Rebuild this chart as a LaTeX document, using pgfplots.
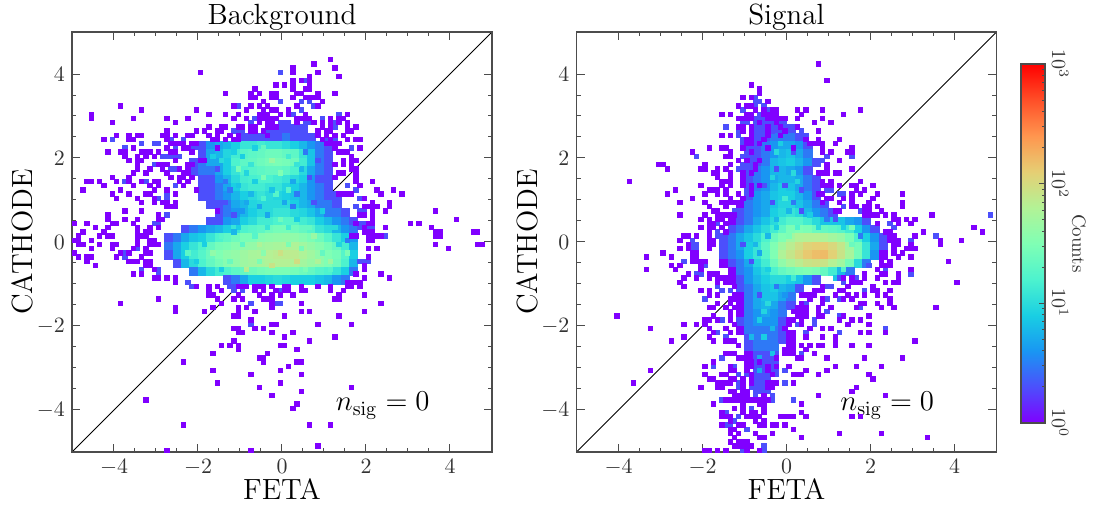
\documentclass[border=0pt]{standalone}
\usepackage{pgfplots}
\pgfplotsset{compat=1.18}
\definecolor{cone}{rgb}{0.5,0,1}
\definecolor{ctwo}{rgb}{0.3,0.309,0.988}
\pgfplotsset{
 /pgfplots/colormap={myrainbow}{rgb=(0.5,0,1) rgb=(0.3,0.309,0.988) rgb=(0.1,0.588,0.951) rgb=(0.1,0.809,0.891) rgb=(0.3,0.951,0.809) rgb=(0.5,1,0.707) rgb=(0.7,0.951,0.588) rgb=(0.9,0.809,0.454) rgb=(1,0.588,0.309) rgb=(1,0.309,0.156) rgb=(1,0,0)},
 panel/.style={scale only axis,width=210pt,height=210pt,xmin=-5,xmax=5,ymin=-5,ymax=5,
  xtick={-4,-2,0,2,4},ytick={-4,-2,0,2,4},minor tick num=3,tick align=inside,
  axis line style={black!70,line width=0.8pt},tick style={black!70,line width=0.5pt},
  major tick length=4pt,minor tick length=2pt,
  tick label style={font=\fontsize{10.5}{12}\selectfont,black!80},
  label style={font=\fontsize{14.6}{16}\selectfont},
  title style={font=\fontsize{14.6}{16}\selectfont,yshift=-9pt},
  xlabel={FETA},ylabel={CATHODE},xlabel style={yshift=5pt},ylabel style={yshift=-5pt},
  axis on top,colormap name=myrainbow,point meta min=0,point meta max=3},
 coarse/.style={scatter,only marks,mark=square*,mark size=2.1pt,scatter src=explicit,
  scatter/use mapped color={draw=mapped color,fill=mapped color},
  mark options={xshift=2.1pt,yshift=2.1pt,line width=0.1pt}},
 finec/.style={scatter,only marks,mark=square*,mark size=1.08pt,scatter src=explicit,
  scatter/use mapped color={draw=mapped color,fill=mapped color},
  mark options={xshift=1.05pt,yshift=1.05pt,line width=0.05pt}},
 fine1/.style={only marks,mark=square*,mark size=1.08pt,mark options={draw=#1,fill=#1,xshift=1.05pt,yshift=1.05pt,line width=0.05pt}},
}
\begin{document}
\begin{tikzpicture}
\useasboundingbox (0,0) rectangle (549.5pt,256pt);
\begin{axis}[panel,at={(36pt,30pt)},anchor=south west,title={Background}]
\addplot[coarse] table[x=x,y=y,meta expr=log10(\thisrow{c})] {
x y c
-0.4 2.6 2
-0.2 2.6 2
0.0 2.6 2
0.2 2.6 2
0.4 2.6 2
-1.0 2.4 2
-0.8 2.4 2
-0.6 2.4 2
-0.4 2.4 2
-0.2 2.4 2
0.0 2.4 3
0.2 2.4 2
0.4 2.4 2
0.6 2.4 2
-2.2 2.2 2
-2.0 2.2 2
-1.8 2.2 4
-1.6 2.2 5
-1.4 2.2 6
-1.2 2.2 8
-1.0 2.2 12
-0.8 2.2 12
-0.6 2.2 14
-0.4 2.2 12
-0.2 2.2 12
0.0 2.2 10
0.2 2.2 8
0.4 2.2 6
0.6 2.2 4
0.8 2.2 3
1.0 2.2 2
-2.0 2.0 2
-1.8 2.0 5
-1.6 2.0 6
-1.4 2.0 9
-1.2 2.0 14
-1.0 2.0 18
-0.8 2.0 20
-0.6 2.0 22
-0.4 2.0 25
-0.2 2.0 25
0.0 2.0 22
0.2 2.0 20
0.4 2.0 12
0.6 2.0 7
0.8 2.0 3
1.0 2.0 2
-2.2 1.8 2
-2.0 1.8 3
-1.8 1.8 5
-1.6 1.8 5
-1.4 1.8 8
-1.2 1.8 16
-1.0 1.8 20
-0.8 1.8 22
-0.6 1.8 25
-0.4 1.8 28
-0.2 1.8 30
0.0 1.8 28
0.2 1.8 25
0.4 1.8 14
0.6 1.8 7
0.8 1.8 3
1.0 1.8 2
-2.2 1.6 2
-2.0 1.6 3
-1.8 1.6 3
-1.6 1.6 5
-1.4 1.6 8
-1.2 1.6 12
-1.0 1.6 16
-0.8 1.6 18
-0.6 1.6 20
-0.4 1.6 22
-0.2 1.6 22
0.0 1.6 20
0.2 1.6 16
0.4 1.6 10
0.6 1.6 5
0.8 1.6 3
1.0 1.6 2
-2.0 1.4 2
-1.8 1.4 2
-1.6 1.4 4
-1.4 1.4 6
-1.2 1.4 10
-1.0 1.4 14
-0.8 1.4 15
-0.6 1.4 16
-0.4 1.4 16
-0.2 1.4 14
0.0 1.4 12
0.2 1.4 10
0.4 1.4 8
0.6 1.4 4
0.8 1.4 2
1.0 1.4 2
-2.0 1.2 2
-1.8 1.2 2
-1.6 1.2 3
-1.4 1.2 5
-1.2 1.2 8
-1.0 1.2 12
-0.8 1.2 14
-0.6 1.2 14
-0.4 1.2 12
-0.2 1.2 12
0.0 1.2 9
0.2 1.2 8
0.4 1.2 6
0.6 1.2 4
0.8 1.2 3
1.0 1.2 2
-2.0 1.0 2
-1.8 1.0 2
-1.6 1.0 3
-1.4 1.0 4
-1.2 1.0 6
-1.0 1.0 8
-0.8 1.0 10
-0.6 1.0 12
-0.4 1.0 10
-0.2 1.0 9
0.0 1.0 8
0.2 1.0 7
0.4 1.0 6
0.6 1.0 4
0.8 1.0 3
1.0 1.0 2
1.2 1.0 2
-1.8 0.8 2
-1.6 0.8 2
-1.4 0.8 3
-1.2 0.8 5
-1.0 0.8 6
-0.8 0.8 9
-0.6 0.8 10
-0.4 0.8 10
-0.2 0.8 10
0.0 0.8 10
0.2 0.8 8
0.4 0.8 6
0.6 0.8 5
0.8 0.8 3
1.0 0.8 3
1.2 0.8 2
-1.6 0.6 2
-1.4 0.6 3
-1.2 0.6 4
-1.0 0.6 6
-0.8 0.6 8
-0.6 0.6 10
-0.4 0.6 10
-0.2 0.6 12
0.0 0.6 12
0.2 0.6 10
0.4 0.6 9
0.6 0.6 7
0.8 0.6 5
1.0 0.6 3
1.2 0.6 3
1.4 0.6 2
-1.8 0.4 2
-1.6 0.4 2
-1.4 0.4 4
-1.2 0.4 5
-1.0 0.4 8
-0.8 0.4 10
-0.6 0.4 14
-0.4 0.4 14
-0.2 0.4 16
0.0 0.4 18
0.2 0.4 18
0.4 0.4 14
0.6 0.4 12
0.8 0.4 8
1.0 0.4 6
1.2 0.4 4
1.4 0.4 3
1.6 0.4 2
-2.4 0.2 2
-2.2 0.2 3
-2.0 0.2 4
-1.8 0.2 5
-1.6 0.2 6
-1.4 0.2 8
-1.2 0.2 12
-1.0 0.2 16
-0.8 0.2 18
-0.6 0.2 20
-0.4 0.2 25
-0.2 0.2 28
0.0 0.2 28
0.2 0.2 25
0.4 0.2 22
0.6 0.2 18
0.8 0.2 12
1.0 0.2 10
1.2 0.2 6
1.4 0.2 4
1.6 0.2 3
-2.8 0.0 2
-2.6 0.0 3
-2.4 0.0 5
-2.2 0.0 7
-2.0 0.0 8
-1.8 0.0 12
-1.6 0.0 16
-1.4 0.0 20
-1.2 0.0 25
-1.0 0.0 30
-0.8 0.0 30
-0.6 0.0 35
-0.4 0.0 38
-0.2 0.0 40
0.0 0.0 42
0.2 0.0 40
0.4 0.0 35
0.6 0.0 30
0.8 0.0 25
1.0 0.0 18
1.2 0.0 12
1.4 0.0 8
1.6 0.0 4
-2.8 -0.2 3
-2.6 -0.2 5
-2.4 -0.2 8
-2.2 -0.2 12
-2.0 -0.2 16
-1.8 -0.2 22
-1.6 -0.2 28
-1.4 -0.2 30
-1.2 -0.2 35
-1.0 -0.2 40
-0.8 -0.2 42
-0.6 -0.2 48
-0.4 -0.2 52
-0.2 -0.2 55
0.0 -0.2 58
0.2 -0.2 60
0.4 -0.2 50
0.6 -0.2 42
0.8 -0.2 35
1.0 -0.2 28
1.2 -0.2 22
1.4 -0.2 14
1.6 -0.2 6
-2.8 -0.4 2
-2.6 -0.4 5
-2.4 -0.4 8
-2.2 -0.4 14
-2.0 -0.4 18
-1.8 -0.4 24
-1.6 -0.4 32
-1.4 -0.4 38
-1.2 -0.4 42
-1.0 -0.4 48
-0.8 -0.4 55
-0.6 -0.4 58
-0.4 -0.4 65
-0.2 -0.4 70
0.0 -0.4 72
0.2 -0.4 72
0.4 -0.4 60
0.6 -0.4 50
0.8 -0.4 40
1.0 -0.4 32
1.2 -0.4 28
1.4 -0.4 18
1.6 -0.4 8
-2.6 -0.6 2
-2.4 -0.6 6
-2.2 -0.6 10
-2.0 -0.6 16
-1.8 -0.6 22
-1.6 -0.6 28
-1.4 -0.6 35
-1.2 -0.6 40
-1.0 -0.6 48
-0.8 -0.6 52
-0.6 -0.6 55
-0.4 -0.6 60
-0.2 -0.6 65
0.0 -0.6 65
0.2 -0.6 60
0.4 -0.6 52
0.6 -0.6 45
0.8 -0.6 38
1.0 -0.6 32
1.2 -0.6 26
1.4 -0.6 16
1.6 -0.6 6
-2.2 -0.8 3
-2.0 -0.8 6
-1.8 -0.8 10
-1.6 -0.8 14
-1.4 -0.8 16
-1.2 -0.8 20
-1.0 -0.8 22
-0.8 -0.8 25
-0.6 -0.8 28
-0.4 -0.8 30
-0.2 -0.8 30
0.0 -0.8 30
0.2 -0.8 28
0.4 -0.8 25
0.6 -0.8 22
0.8 -0.8 18
1.0 -0.8 16
1.2 -0.8 12
1.4 -0.8 8
1.6 -0.8 3
-1.4 -1.0 2
-1.2 -1.0 3
-1.0 -1.0 5
-0.8 -1.0 8
-0.6 -1.0 8
-0.4 -1.0 9
-0.2 -1.0 10
0.0 -1.0 9
0.2 -1.0 8
0.4 -1.0 8
0.6 -1.0 8
0.8 -1.0 7
1.0 -1.0 6
1.2 -1.0 4
1.4 -1.0 3
};
\addplot[finec] table[x=x,y=y,meta expr=log10(\thisrow{c})] {
x y c
-1.5 1.9 10
-1.2 2.1 8
-0.9 1.6 9
-0.7 2.2 8
-0.3 1.9 45
0.1 2.0 14
-0.5 1.5 30
-1.1 1.3 7
-0.8 1.1 6
-1.4 0.9 2
-1.3 1.2 3
-1.0 0.7 4
-0.6 0.8 5
-0.2 1.1 18
0.0 0.9 5
0.3 1.1 3
0.2 1.4 5
-0.1 1.6 32
0.4 1.7 6
0.6 1.5 2
-0.4 0.6 5
-0.1 0.5 25
0.3 0.5 8
0.6 0.3 22
-1.1 0.3 8
-1.5 0.1 18
-1.9 -0.1 8
-1.7 -0.3 40
-1.3 -0.5 24
-0.9 -0.7 70
-0.5 -0.3 36
0.1 -0.1 30
0.3 -0.5 95
-0.1 -0.3 90
0.5 -0.7 30
0.9 -0.3 22
1.1 -0.5 50
1.3 -0.1 9
1.5 -0.3 30
1.5 0.0 3
-2.3 -0.3 20
-2.1 -0.5 8
-0.7 0.1 18
-0.3 -0.6 85
0.7 0.1 45
1.1 -0.7 18
-1.6 1.7 2
-1.7 2.0 8
-1.4 1.4 3
-1.6 0.7 1
-1.2 0.6 2
0.8 1.9 2
0.5 2.1 3
0.7 0.9 2
0.9 0.7 8
1.2 0.3 10
-1.0 2.0 8
-0.5 2.2 22
-0.8 1.8 12
0.3 1.8 12
-1.1 1.7 28
-0.7 1.4 8
-0.3 1.2 7
0.1 1.2 18
-0.9 0.9 5
-0.5 1.0 16
0.2 0.8 3
-1.2 0.2 6
-0.4 0.3 12
0.1 0.3 14
-1.0 -0.1 20
-0.6 -0.1 60
0.4 -0.2 28
0.8 -0.5 60
-1.5 -0.7 8
-0.6 -0.5 30
};
\addplot[fine1=ctwo] table {
-1.1 3.2
-.1 4.0
.5 3.8
-.1 3.3
.4 3.3
.6 3.3
.7 3.2
.4 3.1
.2 3.0
1.3 3.0
.9 2.9
.1 2.8
1.2 2.8
-.7 2.9
-.8 2.8
-.1 2.8
0 2.8
.5 2.8
.6 2.8
1.2 2.7
-1.2 2.6
-1.1 2.6
-1.0 2.6
-4.1 2.4
-2.7 2.4
-2.4 2.4
1.0 2.4
1.2 2.4
-3.4 2.3
-3.1 2.3
-3.0 2.3
-3.8 2.2
-2.6 2.2
-2.9 2.0
-2.8 2.0
-2.7 2.0
-2.6 2.0
-2.5 2.0
-3.1 1.8
-2.7 1.7
-2.6 1.7
-3.3 1.4
-3.8 1.4
-2.6 1.3
-2.8 1.1
-3.0 1.0
-2.8 1.0
-2.8 .6
-3.1 .4
-3.0 .4
1.6 2.2
1.5 1.3
1.7 1.2
1.8 1.0
1.7 .8
1.8 .7
1.9 .7
1.6 .5
1.8 .4
1.9 .4
2.0 .3
2.1 .3
1.8 .3
2.4 .1
-.8 -1.5
-.2 -1.5
-.8 -2.0
1.8 -.5
1.9 -.5
2.0 -.5
-.1 -1.5
-.1 -1.2
-1.2 -1.2
-1.0 -1.2
-2.3 -1.0
-2.2 -1.1
-1.3 -1.1
-1.2 -1.1
-3.4 -.7
-3.0 -.7
-3.0 -.8
-3.8 -.3
-3.8 -.4
-3.5 -.2
};
\addplot[fine1=cone] table {
-2.0 4.0
-1.4 3.5
-.7 3.6
-.2 3.7
-.8 3.5
-.6 3.5
-.3 3.5
-.2 3.5
.2 4.0
.2 4.1
.8 4.0
.7 4.2
1.1 4.3
1.2 4.1
.6 3.9
1.3 3.9
.2 3.8
.4 3.8
.6 3.8
0 3.7
.2 3.7
.6 3.7
.2 3.6
.5 3.6
.6 3.6
.3 3.5
.4 3.5
.8 3.5
1.2 3.5
.2 3.4
.5 3.4
.6 3.4
.7 3.4
.8 3.4
.9 3.3
.3 3.2
.8 3.2
.1 3.1
-.1 3.0
.1 3.0
.5 3.0
1.5 3.0
.3 2.9
.4 2.9
.5 2.9
.6 2.9
1.1 2.9
1.3 2.9
1.4 2.9
.3 2.8
.7 2.8
.9 2.8
1.1 2.8
1.3 2.8
1.5 2.8
.9 2.7
1.1 2.7
1.5 2.7
1.7 2.7
.8 2.6
1.0 2.6
1.1 2.6
1.5 2.6
1.6 2.6
.8 2.5
1.0 2.5
1.2 2.5
1.4 2.5
-.8 3.4
-.7 3.4
-.3 3.4
-.2 3.4
-.5 3.3
-1.2 3.2
-.8 3.2
-.6 3.2
-.4 3.2
-3.9 3.2
-3.4 3.1
-2.1 3.1
-.9 3.1
-.5 3.1
-.3 3.1
-.2 3.1
-4.6 3.0
-1.8 3.0
-1.4 3.0
-1.1 3.0
-.6 3.0
-.5 3.0
-.4 3.0
-4.6 2.9
-3.6 2.9
-2.8 2.9
-2.3 2.9
-1.2 2.9
-.9 2.9
-.6 2.9
-.5 2.9
-.4 2.9
-.3 2.9
-.2 2.9
-4.1 2.8
-2.6 2.8
-.6 2.8
-.4 2.8
-.3 2.8
-1.8 2.7
-1.5 2.7
-1.4 2.7
-1.1 2.7
-1.0 2.7
-.8 2.7
-.7 2.7
-.4 2.7
-.3 2.7
-.2 2.7
-2.8 2.6
-2.1 2.6
-1.9 2.6
-1.6 2.6
-1.5 2.6
-.8 2.6
-.7 2.6
-.5 2.6
-4.0 2.5
-3.7 2.5
-3.5 2.5
-3.4 2.5
-2.9 2.5
-2.8 2.5
-2.6 2.5
-2.3 2.5
-2.2 2.5
-1.8 2.5
-1.6 2.5
-1.3 2.5
-1.1 2.5
-.4 2.5
-4.3 2.4
-3.7 2.4
-3.6 2.4
-2.8 2.4
-1.7 2.4
-1.6 2.4
-1.4 2.4
-1.2 2.4
-1.1 2.4
.9 2.4
1.1 2.4
1.5 2.4
1.7 2.4
1.8 2.4
-2.7 2.3
-2.6 2.3
-2.5 2.3
-2.4 2.3
-2.2 2.3
-2.1 2.3
1.0 2.3
1.1 2.3
1.2 2.3
1.3 2.3
-3.6 2.2
-2.8 2.2
-2.4 2.2
-2.3 2.2
-1.6 2.2
1.2 2.2
1.8 2.2
-4.2 2.1
-3.9 2.1
-3.8 2.1
-3.4 2.1
-3.3 2.1
-3.2 2.1
-3.0 2.1
-2.7 2.1
-2.6 2.1
-2.2 2.1
1.3 2.1
1.4 2.1
1.5 2.1
-3.8 2.0
-3.5 2.0
-3.3 2.0
-3.1 2.0
1.6 2.0
-3.7 1.9
-3.5 1.9
-3.4 1.9
-2.6 1.9
-2.0 1.9
-1.9 1.9
1.4 1.9
1.6 1.9
1.7 1.9
-3.5 1.8
-3.0 1.8
-2.9 1.8
-2.8 1.8
-2.3 1.8
-2.2 1.8
1.2 1.8
1.4 1.8
1.6 1.8
-3.5 1.7
-3.2 1.7
-2.9 1.7
-2.5 1.7
-2.3 1.7
1.6 1.7
1.7 1.7
-3.6 1.6
-3.3 1.6
-2.8 1.6
-2.4 1.6
-2.3 1.6
1.7 1.6
1.3 1.6
1.4 1.6
-4.1 1.5
-3.7 1.5
-2.7 1.5
-2.5 1.5
-2.4 1.5
-2.2 1.5
1.7 1.5
1.2 1.5
-4.7 1.4
-4.6 1.4
-4.4 1.4
-4.0 1.4
-3.7 1.4
-3.4 1.4
-3.1 1.4
-3.0 1.4
-2.5 1.4
-2.3 1.4
1.7 1.4
2.1 1.4
-4.3 1.3
-3.6 1.3
-3.2 1.3
-3.0 1.3
-2.4 1.3
1.8 1.3
-4.8 1.2
-3.9 1.2
-3.1 1.2
-2.8 1.2
-2.1 1.2
2.2 1.2
2.6 1.2
-4.1 1.1
-3.7 1.1
-3.3 1.1
-3.2 1.1
-2.6 1.1
1.3 1.1
1.4 1.1
1.5 1.1
1.6 1.1
2.3 1.1
2.8 1.1
-4.0 1.0
-3.5 1.0
-3.1 1.0
1.9 1.0
-3.4 .9
-3.1 .9
-2.9 .9
-2.8 .9
-2.6 .9
2.1 .9
2.5 .9
-2.8 .8
-2.7 .8
-2.6 .8
1.9 .8
2.0 .8
2.1 .8
2.2 .8
2.5 .8
-3.8 .7
-3.4 .7
2.1 .7
2.4 .7
3.6 .7
-4.2 .6
-3.0 .6
1.8 .6
1.9 .6
2.1 .6
-4.2 .5
-3.8 .5
-3.5 .5
-3.0 .5
-2.9 .5
2.1 .5
4.1 .5
-5.0 .4
-4.7 .4
-4.1 .4
-4.0 .4
-3.6 .4
1.7 .4
2.0 .4
2.1 .4
3.0 .4
3.2 .4
-4.5 .3
-4.2 .3
-3.5 .3
-3.2 .3
-3.0 .3
1.9 .3
2.4 .3
3.5 .3
-4.8 .2
-4.3 .2
-3.5 .2
-3.3 .2
-3.2 .2
1.9 .2
2.0 .2
2.1 .2
3.6 .2
3.7 .2
4.5 .2
4.6 .2
-4.9 .1
-4.4 .1
-4.2 .1
-4.1 .1
-3.5 .1
-3.4 .1
-3.3 .1
1.6 .1
1.7 .1
2.0 .1
2.1 .1
2.2 .1
2.3 .1
3.6 .1
3.7 .1
-5.0 0
-4.9 0
-4.6 0
-3.5 0
-3.2 0
-3.1 0
2.0 0
2.1 0
-4.9 -.1
-4.8 -.1
-4.4 -.1
-4.1 -.1
-4.0 -.1
-3.5 -.1
-3.2 -.1
-3.1 -.1
-3.0 -.1
3.6 -.1
4.6 -.1
4.7 -.1
-4.6 -.2
-4.1 -.2
-3.6 -.2
-3.3 -.2
2.0 -.2
2.2 -.2
3.9 -.2
-5.0 -.3
-3.9 -.3
-3.7 -.3
-3.3 -.3
-3.2 -.3
-4.9 -.4
-4.7 -.4
-4.6 -.4
-4.0 -.4
-3.4 -.4
2.0 -.4
-4.7 -.5
-3.7 -.5
-3.6 -.5
-3.5 -.5
-3.3 -.5
-3.2 -.5
-4.5 -.6
-3.3 -.6
-3.2 -.6
1.9 -.6
-3.1 -.7
1.9 -.7
-3.6 -.8
-3.4 -.8
1.7 -.8
2.3 -.8
-3.1 -.9
-3.0 -.9
-2.8 -.9
-2.6 -.9
1.9 -.9
2.5 -.9
-2.6 -1.0
1.5 -1.0
1.6 -1.0
1.7 -1.0
1.8 -1.0
-2.1 -1.1
-1.8 -1.1
-1.6 -1.1
-1.1 -1.1
-1.0 -1.1
-.9 -1.1
-.7 -1.1
-.6 -1.1
-.5 -1.1
-.3 -1.1
0 -1.1
.1 -1.1
.4 -1.1
.8 -1.1
1.1 -1.1
1.5 -1.1
1.6 -1.1
1.8 -1.1
-1.8 -1.2
-1.5 -1.2
-.7 -1.2
-.5 -1.2
-.2 -1.2
0 -1.2
.1 -1.2
.4 -1.2
.5 -1.2
1.1 -1.2
1.4 -1.2
-1.8 -1.3
-1.7 -1.3
-1.1 -1.3
-.6 -1.3
-.3 -1.3
-.1 -1.3
.2 -1.3
1.3 -1.3
1.9 -1.3
-3.0 -1.4
-1.6 -1.4
-1.2 -1.4
-1.0 -1.4
-.5 -1.4
-.4 -1.4
-.3 -1.4
1.2 -1.4
1.3 -1.4
-3.9 -1.5
-1.5 -1.5
-.3 -1.5
.4 -1.5
2.3 -1.5
-2.6 -1.6
-1.7 -1.6
-1.1 -1.6
-.9 -1.6
-.3 -1.6
-2.6 -1.7
-1.9 -1.7
-1.1 -1.7
-.7 -1.7
.4 -1.7
.6 -1.7
1.9 -1.7
-1.2 -1.8
-1.1 -1.8
0 -1.8
1.3 -1.8
-.8 -1.9
-.3 -2.0
-.2 -2.0
.8 -2.0
1.6 -2.0
-1.2 -2.1
-1.1 -2.1
-.7 -2.1
-.5 -2.1
-1.1 -2.2
-1.0 -2.2
-.3 -2.2
.2 -2.2
0 -2.3
1.2 -2.3
-1.2 -2.4
.6 -2.4
-1.5 -2.5
-1.3 -2.5
-1.1 -2.5
-.1 -2.5
0 -2.5
-1.1 -2.6
.3 -2.6
-1.7 -2.7
-.4 -2.7
-.6 -2.8
-.5 -2.8
-2.4 -2.9
-.5 -2.9
.3 -2.9
.4 -2.9
.1 -3.0
-1.7 -3.1
-.1 -3.1
-.8 -3.2
.4 -3.2
-1.6 -3.4
-.1 -3.4
-.6 -3.5
1.6 -3.5
.4 -3.6
-.3 -3.7
-3.3 -3.8
.3 -3.9
.2 -4.0
-2.4 -4.4
.6 -4.4
1.1 -4.4
.8 -4.9
-2.8 -5.0
-.8 -5.0
};
\addplot[black,line width=0.5pt] coordinates {(-5,-5) (5,5)};
\node[font=\fontsize{14.8}{16}\selectfont] at (axis cs:2.4,-3.9) {$n_{\mathrm{sig}}=0$};
\end{axis}
\begin{axis}[panel,at={(288.25pt,30pt)},anchor=south west,title={Signal},
 colorbar,colorbar style={at={(1.0583,0.0690)},anchor=south west,width=12pt,height=179.5pt,
  ytick={0,1,2,3},yticklabels={$10^0$,$10^1$,$10^2$,$10^3$},
  minor ytick={0.301,0.477,0.602,0.699,0.778,0.845,0.903,0.954,1.301,1.477,1.602,1.699,1.778,1.845,1.903,1.954,2.301,2.477,2.602,2.699,2.778,2.845,2.903,2.954},
  yticklabel style={rotate=-90,anchor=south,font=\fontsize{10}{11}\selectfont,black!80},
  ylabel={Counts},ylabel shift=-5pt,ylabel style={rotate=180,font=\fontsize{9.5}{11}\selectfont,black!80},
  tick align=inside,ytick pos=right,major tick length=3pt,minor tick length=1.5pt,
  axis line style={black!70,line width=0.6pt}}]
\addplot[coarse] table[x=x,y=y,meta expr=log10(\thisrow{c})] {
x y c
-0.6 2.8 2
-0.4 2.8 2
-0.2 2.8 2
-0.8 2.6 2
-0.6 2.6 2
-0.4 2.6 2
-0.2 2.6 2
0.0 2.6 2
-0.8 2.4 2
-0.6 2.4 2
-0.4 2.4 3
-0.2 2.4 3
0.0 2.4 3
0.2 2.4 2
-1.0 2.2 2
-0.8 2.2 2
-0.6 2.2 3
-0.4 2.2 4
-0.2 2.2 5
0.0 2.2 5
0.2 2.2 4
0.4 2.2 2
-1.0 2.0 2
-0.8 2.0 2
-0.6 2.0 3
-0.4 2.0 4
-0.2 2.0 6
0.0 2.0 7
0.2 2.0 5
0.4 2.0 3
-1.0 1.8 2
-0.8 1.8 2
-0.6 1.8 3
-0.4 1.8 6
-0.2 1.8 7
0.0 1.8 8
0.2 1.8 6
0.4 1.8 4
0.6 1.8 2
-1.0 1.6 2
-0.8 1.6 3
-0.6 1.6 4
-0.4 1.6 6
-0.2 1.6 6
0.0 1.6 5
0.2 1.6 4
0.4 1.6 2
-1.0 1.4 2
-0.8 1.4 3
-0.6 1.4 4
-0.4 1.4 5
-0.2 1.4 6
0.0 1.4 6
0.2 1.4 5
0.4 1.4 3
0.6 1.4 2
-1.0 1.2 2
-0.8 1.2 3
-0.6 1.2 4
-0.4 1.2 6
-0.2 1.2 8
0.0 1.2 7
0.2 1.2 5
0.4 1.2 3
0.6 1.2 2
-1.0 1.0 2
-0.8 1.0 4
-0.6 1.0 5
-0.4 1.0 7
-0.2 1.0 8
0.0 1.0 8
0.2 1.0 6
0.4 1.0 4
0.6 1.0 2
-1.2 0.8 1
-1.0 0.8 3
-0.8 0.8 4
-0.6 0.8 5
-0.4 0.8 7
-0.2 0.8 9
0.0 0.8 9
0.2 0.8 7
0.4 0.8 5
0.6 0.8 3
0.8 0.8 2
-1.2 0.6 2
-1.0 0.6 3
-0.8 0.6 4
-0.6 0.6 5
-0.4 0.6 8
-0.2 0.6 10
0.0 0.6 12
0.2 0.6 10
0.4 0.6 6
0.6 0.6 4
0.8 0.6 3
1.0 0.6 2
-1.4 0.4 1
-1.2 0.4 2
-1.0 0.4 3
-0.8 0.4 5
-0.6 0.4 7
-0.4 0.4 10
-0.2 0.4 14
0.0 0.4 18
0.2 0.4 18
0.4 0.4 14
0.6 0.4 10
0.8 0.4 7
1.0 0.4 7
1.2 0.4 7
1.4 0.4 5
1.6 0.4 4
1.8 0.4 2
-1.4 0.2 2
-1.2 0.2 3
-1.0 0.2 5
-0.8 0.2 7
-0.6 0.2 10
-0.4 0.2 14
-0.2 0.2 20
0.0 0.2 30
0.2 0.2 32
0.4 0.2 30
0.6 0.2 24
0.8 0.2 22
1.0 0.2 20
1.2 0.2 18
1.4 0.2 14
1.6 0.2 8
1.8 0.2 4
2.0 0.2 2
-1.6 0.0 2
-1.4 0.0 3
-1.2 0.0 5
-1.0 0.0 7
-0.8 0.0 10
-0.6 0.0 16
-0.4 0.0 24
-0.2 0.0 32
0.0 0.0 50
0.2 0.0 62
0.4 0.0 65
0.6 0.0 65
0.8 0.0 60
1.0 0.0 52
1.2 0.0 45
1.4 0.0 30
1.6 0.0 16
1.8 0.0 8
2.0 0.0 4
2.2 0.0 2
-1.6 -0.2 2
-1.4 -0.2 3
-1.2 -0.2 5
-1.0 -0.2 8
-0.8 -0.2 12
-0.6 -0.2 20
-0.4 -0.2 32
-0.2 -0.2 50
0.0 -0.2 70
0.2 -0.2 90
0.4 -0.2 115
0.6 -0.2 125
0.8 -0.2 125
1.0 -0.2 105
1.2 -0.2 80
1.4 -0.2 50
1.6 -0.2 28
1.8 -0.2 12
2.0 -0.2 5
2.2 -0.2 2
-1.6 -0.4 2
-1.4 -0.4 3
-1.2 -0.4 4
-1.0 -0.4 8
-0.8 -0.4 12
-0.6 -0.4 18
-0.4 -0.4 32
-0.2 -0.4 60
0.0 -0.4 80
0.2 -0.4 105
0.4 -0.4 135
0.6 -0.4 155
0.8 -0.4 160
1.0 -0.4 120
1.2 -0.4 85
1.4 -0.4 55
1.6 -0.4 28
1.8 -0.4 12
2.0 -0.4 4
2.2 -0.4 1
-1.6 -0.6 1
-1.4 -0.6 2
-1.2 -0.6 3
-1.0 -0.6 5
-0.8 -0.6 9
-0.6 -0.6 14
-0.4 -0.6 25
-0.2 -0.6 40
0.0 -0.6 55
0.2 -0.6 70
0.4 -0.6 85
0.6 -0.6 90
0.8 -0.6 85
1.0 -0.6 65
1.2 -0.6 50
1.4 -0.6 28
1.6 -0.6 10
1.8 -0.6 3
-1.4 -0.8 1
-1.2 -0.8 3
-1.0 -0.8 4
-0.8 -0.8 7
-0.6 -0.8 10
-0.4 -0.8 16
-0.2 -0.8 22
0.0 -0.8 26
0.2 -0.8 30
0.4 -0.8 32
0.6 -0.8 30
0.8 -0.8 22
1.0 -0.8 14
1.2 -0.8 6
1.4 -0.8 3
-1.4 -1.0 1
-1.2 -1.0 2
-1.0 -1.0 4
-0.8 -1.0 6
-0.6 -1.0 8
-0.4 -1.0 10
-0.2 -1.0 10
0.0 -1.0 8
0.2 -1.0 7
0.4 -1.0 4
0.6 -1.0 2
-1.2 -1.2 2
-1.0 -1.2 3
-0.8 -1.2 5
-0.6 -1.2 7
-0.4 -1.2 8
-0.2 -1.2 6
0.0 -1.2 5
0.2 -1.2 2
-1.2 -1.4 1
-1.0 -1.4 3
-0.8 -1.4 5
-0.6 -1.4 7
-0.4 -1.4 7
-0.2 -1.4 5
0.0 -1.4 3
-1.2 -1.6 1
-1.0 -1.6 3
-0.8 -1.6 5
-0.6 -1.6 6
-0.4 -1.6 5
-0.2 -1.6 3
0.0 -1.6 2
-1.2 -1.8 1
-1.0 -1.8 3
-0.8 -1.8 4
-0.6 -1.8 5
-0.4 -1.8 4
-0.2 -1.8 3
-1.2 -2.0 2
-1.0 -2.0 3
-0.8 -2.0 4
-0.6 -2.0 4
-0.4 -2.0 4
-0.2 -2.0 2
-1.2 -2.2 1
-1.0 -2.2 3
-0.8 -2.2 3
-0.6 -2.2 3
-0.4 -2.2 3
-0.2 -2.2 2
-1.0 -2.4 2
-0.8 -2.4 3
-0.6 -2.4 3
-0.4 -2.4 3
-0.2 -2.4 2
-1.0 -2.6 2
-0.8 -2.6 3
-0.6 -2.6 3
-0.4 -2.6 3
-1.0 -2.8 1
-0.8 -2.8 2
-0.6 -2.8 2
-0.4 -2.8 2
-0.8 -3.0 2
-0.6 -3.0 2
-0.4 -3.0 2
-0.8 -3.2 2
-0.6 -3.2 2
-0.4 -3.2 2
-0.8 -3.4 2
-0.6 -3.4 2
-0.8 -3.6 2
-0.6 -3.6 2
};
\addplot[finec] table[x=x,y=y,meta expr=log10(\thisrow{c})] {
x y c
-.2 2.3 8
.1 2.1 2
-.3 1.7 2
.1 1.6 10
-.6 1.3 2
-.1 1.3 2
.3 1.2 2
-.4 .9 2
.1 .9 3
.3 .7 2
-.3 .5 6
.5 .6 8
.7 .3 10
1.1 .5 2
1.5 .3 28
-.5 .1 6
-1.1 -.1 2
-.7 -.3 5
-.9 -.5 2
-.5 -.7 8
-.3 -1.1 3
-.7 -1.3 2
-.5 -1.5 10
-.7 -1.9 8
-.9 -2.3 6
-.4 -2.7 7
-.7 -3.1 5
-.3 2.1 10
-.4 1.5 9
.2 1.4 9
-.1 1.0 14
.0 .7 6
-.3 .3 8
.2 .3 16
.9 .5 3
1.3 .3 8
-.8 -.1 6
.0 .1 30
1.5 -.1 24
1.7 .1 3
1.3 -.7 18
1.1 -.9 7
.1 -.9 14
-.1 -1.3 4
-.6 -1.7 9
-.4 -2.1 6
-.6 -2.3 8
-.7 -2.8 5
};
\addplot[fine1=ctwo] table {
-.8 3.4
-.8 3.3
-.7 3.3
-.8 3.2
-.6 3.2
-1.1 3.1
-.5 3.1
-.7 3.0
-.8 2.9
-.7 2.9
-1.1 2.8
-1.0 2.8
-.8 2.8
-.5 2.8
-1.5 2.7
-.8 2.7
-.4 2.7
-1.2 2.6
-.8 2.6
-.4 2.6
-1.2 2.5
-.7 2.5
.4 2.5
.3 2.6
-1.1 2.4
-1.1 2.3
-2.2 2.0
-1.1 2.0
.9 2.0
1.5 2.0
.8 1.9
-1.1 1.8
-1.2 1.7
-1.1 1.7
-1.0 1.1
.9 1.2
1.0 1.2
1.2 1.1
1.3 1.1
1.3 .8
1.7 .7
-1.3 .7
-1.7 .4
2.4 .4
2.5 .3
-1.7 .2
3.5 .1
2.9 0
-1.7 .1
-2.3 0
4.8 .6
-2.3 -.1
-2.2 -.1
-2.3 -.2
-2.2 -.2
-2.5 -.5
-2.0 -.6
1.9 -.6
2.3 -.7
2.9 -.8
-2.2 -.8
-2.1 -.8
1.2 -.9
1.6 -.9
1.3 -1.0
-1.7 -1.1
.9 -1.1
1.0 -1.1
-1.6 -1.2
-1.4 -1.2
1.8 -1.2
-2.0 -1.4
1.2 -1.4
.9 -1.4
.4 -1.5
1.7 -1.6
.9 -1.7
1.2 -1.8
-1.6 -1.9
.6 -1.9
.2 -2.0
.6 -2.0
-1.7 -2.2
.4 -2.2
1.2 -2.2
2.3 -2.1
-1.5 -2.3
.3 -2.7
-1.6 -2.8
-1.8 -3.0
-1.3 -3.0
-1.2 -3.2
-1.0 -3.2
-.1 -3.1
-1.2 -3.4
-.1 -3.4
-1.2 -3.5
-.9 -3.5
-.8 -3.7
-.4 -3.7
-1.6 -3.8
-.4 -3.8
.1 -3.8
-1.3 -4.0
-.9 -4.0
-1.5 -4.1
-1.2 -4.2
-1.3 -4.3
-1.5 -4.4
-1.4 -4.4
-1.0 -4.5
-.6 -4.9
-1.1 -5.0
-.6 -5.0
};
\addplot[fine1=cone] table {
.7 4.2
-.9 3.7
.9 3.8
-.7 3.6
-.7 3.5
-1.1 3.4
-.9 3.4
-.5 3.3
-1.2 3.2
-1.0 3.2
-.9 3.2
-.8 3.1
-.6 3.1
-.4 3.1
-.3 3.1
.2 3.1
.4 3.1
.8 3.1
1.7 3.1
-1.6 3.0
-1.4 3.0
-1.0 3.0
-.9 3.0
-.6 3.0
-.5 3.0
-.4 3.0
-.3 3.0
.3 3.0
1.3 3.0
-1.2 2.9
-1.1 2.9
-1.0 2.9
-.9 2.9
-.5 2.9
-.4 2.9
-.3 2.9
-.2 2.9
-.1 2.9
.2 2.9
.8 2.9
-.7 2.8
-.3 2.8
.6 2.8
1.0 2.8
-1.2 2.7
-1.1 2.7
-.9 2.7
-.5 2.7
-.2 2.7
.2 2.7
-1.1 2.6
-.9 2.6
-.5 2.6
-.1 2.6
.7 2.6
-1.6 2.5
-1.4 2.5
-.9 2.5
-.5 2.5
-.2 2.5
-1.0 2.4
-.9 2.4
-.6 2.4
.4 2.4
.7 2.4
1.2 2.4
-1.0 2.3
-.9 2.3
-.7 2.3
.5 2.3
.6 2.3
.7 2.3
.8 2.3
1.1 2.3
-1.9 2.2
-1.6 2.2
-1.5 2.2
-1.1 2.2
-.5 2.2
.1 2.2
.8 2.2
1.5 2.2
-2.3 2.1
-1.4 2.1
-.9 2.1
.8 2.1
1.0 2.1
1.4 2.1
1.5 2.1
-1.5 2.0
-1.4 2.0
-1.2 1.9
-1.0 1.9
-.7 1.9
1.2 1.9
-3.1 1.8
-3.0 1.8
-2.0 1.8
-1.4 1.8
-.8 1.8
.9 1.8
-2.9 1.7
-2.1 1.7
-2.0 1.7
-1.7 1.7
-1.5 1.7
-.8 1.7
.9 1.7
1.5 1.7
-1.8 1.6
-1.7 1.6
-1.4 1.6
-1.1 1.6
-.9 1.6
.7 1.6
.8 1.6
.9 1.6
1.1 1.6
1.2 1.6
-1.7 1.5
-1.4 1.5
-1.1 1.5
-3.8 1.4
-1.6 1.4
-1.5 1.4
-1.4 1.4
-1.1 1.4
.8 1.4
1.0 1.4
1.7 1.4
-2.1 1.3
-1.6 1.3
-1.4 1.3
-1.1 1.3
-.9 1.3
-.7 1.3
.8 1.3
.9 1.3
1.0 1.3
1.2 1.3
1.5 1.3
1.6 1.3
2.0 1.3
-2.7 1.2
-1.9 1.2
-1.8 1.2
-1.7 1.2
-1.5 1.2
-.9 1.2
1.6 1.2
1.8 1.2
-2.9 1.1
-2.0 1.1
-1.7 1.1
-1.5 1.1
-1.2 1.1
-.9 1.1
.7 1.1
.8 1.1
1.5 1.1
1.7 1.1
2.1 1.1
2.7 1.1
-2.3 1.0
-1.4 1.0
-1.1 1.0
.9 1.0
1.0 1.0
1.3 1.0
1.5 1.0
2.0 1.0
-2.6 .9
-2.0 .9
-1.6 .9
-1.5 .9
-1.4 .9
-1.3 .9
.8 .9
1.2 .9
1.5 .9
1.9 .9
2.7 .9
-1.9 .8
-1.5 .8
1.5 .8
1.6 .8
1.8 .8
1.9 .8
2.1 .8
2.7 .8
-1.8 .7
-1.7 .7
1.1 .7
1.2 .7
1.8 .7
1.9 .7
2.2 .7
-2.6 .6
-2.0 .6
-1.7 .6
-1.6 .6
-1.5 .6
-1.4 .6
-1.3 .6
1.8 .6
1.9 .6
2.0 .6
2.1 .6
2.3 .6
2.5 .6
3.4 .6
-2.1 .5
-1.9 .5
-1.7 .5
-1.6 .5
2.5 .5
2.6 .5
2.8 .5
3.0 .5
-1.9 .4
-1.8 .4
-1.5 .4
2.1 .4
2.6 .4
2.9 .4
-2.1 .3
-1.9 .3
-1.8 .3
-1.6 .3
4.4 .3
-1.9 .2
-1.5 .2
2.3 .2
2.4 .2
3.2 .2
4.6 .2
-2.5 .1
-2.4 .1
-2.2 .1
-1.9 .1
2.4 .1
2.5 .1
3.0 .1
-2.6 0
-1.9 0
-1.8 0
2.4 0
2.5 0
2.6 0
3.6 0
4.1 0
-2.4 -.1
-1.9 -.1
-1.8 -.1
2.5 -.1
2.6 -.1
2.9 -.1
3.6 -.1
-2.6 -.2
-2.4 -.2
-1.9 -.2
2.5 -.2
2.8 -.2
2.9 -.2
3.0 -.2
-3.0 -.3
-2.3 -.3
-2.2 -.3
2.5 -.3
2.7 -.3
-3.4 -.4
-2.8 -.4
-2.3 -.4
-2.2 -.4
2.6 -.4
2.9 -.4
-2.3 -.5
-2.2 -.5
-2.1 -.5
-2.0 -.5
2.2 -.5
2.4 -.5
3.8 -.5
-2.8 -.6
-2.6 -.6
-2.1 -.6
2.2 -.6
2.3 -.6
2.4 -.6
-3.4 -.7
-2.7 -.7
-2.1 -.7
2.1 -.7
2.9 -.7
-2.4 -.8
-1.9 -.8
-1.8 -.8
-1.7 -.8
1.8 -.8
2.2 -.8
2.3 -.8
2.6 -.8
-2.5 -.9
-2.2 -.9
-1.9 -.9
-1.7 -.9
-1.6 -.9
-1.5 -.9
1.3 -.9
1.5 -.9
1.8 -.9
2.1 -.9
2.6 -.9
-2.6 -1.0
-1.7 -1.0
-1.5 -1.0
1.5 -1.0
1.6 -1.0
1.7 -1.0
2.3 -1.0
2.5 -1.0
2.6 -1.0
4.0 -1.0
-2.5 -1.1
-1.3 -1.1
.8 -1.1
1.4 -1.1
2.0 -1.1
-2.1 -1.2
-1.9 -1.2
.6 -1.2
.7 -1.2
.8 -1.2
1.2 -1.2
1.3 -1.2
2.0 -1.2
2.1 -1.2
2.4 -1.2
-1.9 -1.3
-1.7 -1.3
-1.3 -1.3
.3 -1.3
.4 -1.3
.5 -1.3
.6 -1.3
1.1 -1.3
1.4 -1.3
1.6 -1.3
1.8 -1.3
2.1 -1.3
2.3 -1.3
-1.4 -1.4
-1.3 -1.4
.5 -1.4
.8 -1.4
1.3 -1.4
1.5 -1.4
2.4 -1.4
-1.7 -1.5
-1.4 -1.5
.3 -1.5
.8 -1.5
1.7 -1.5
1.8 -1.5
2.1 -1.5
2.4 -1.5
-1.9 -1.6
-1.8 -1.6
-1.5 -1.6
-1.3 -1.6
.2 -1.6
.3 -1.6
.4 -1.6
.7 -1.6
1.0 -1.6
1.6 -1.6
2.2 -1.6
2.5 -1.6
3.5 -1.6
-1.4 -1.7
.1 -1.7
.2 -1.7
.3 -1.7
.4 -1.7
.7 -1.7
-4.1 -1.8
-1.8 -1.8
-1.4 -1.8
.2 -1.8
.3 -1.8
.4 -1.8
.7 -1.8
.8 -1.8
1.3 -1.8
1.9 -1.8
-2.0 -1.9
-1.9 -1.9
-1.7 -1.9
-1.4 -1.9
0 -1.9
.1 -1.9
.3 -1.9
1.2 -1.9
1.5 -1.9
1.7 -1.9
-2.5 -2.0
-2.2 -2.0
-2.0 -2.0
-1.3 -2.0
0 -2.0
.3 -2.0
1.4 -2.0
1.9 -2.0
-3.3 -2.1
-1.9 -2.1
-1.5 -2.1
-.1 -2.1
.5 -2.1
.8 -2.1
1.0 -2.1
-1.8 -2.2
-1.4 -2.2
0 -2.2
.1 -2.2
1.7 -2.2
1.9 -2.2
2.3 -2.2
-2.5 -2.3
-1.9 -2.3
0 -2.3
.1 -2.3
.4 -2.3
.8 -2.3
1.1 -2.3
-2.8 -2.4
-1.8 -2.4
-1.5 -2.4
-1.4 -2.4
-1.3 -2.4
0 -2.4
.1 -2.4
1.1 -2.4
3.0 -2.4
-1.2 -2.5
0 -2.5
.1 -2.5
.3 -2.5
.5 -2.5
.7 -2.5
.8 -2.5
1.1 -2.5
1.5 -2.5
1.9 -2.5
-.1 -2.6
0 -2.6
.1 -2.6
.4 -2.6
-1.5 -2.7
-1.4 -2.7
-1.3 -2.7
-.1 -2.7
0 -2.7
.1 -2.7
.6 -2.7
-1.2 -2.8
-1.1 -2.8
-.3 -2.8
.2 -2.8
.3 -2.8
.9 -2.8
1.8 -2.8
2.7 -2.8
-1.8 -2.9
-1.0 -2.9
-.9 -2.9
-.7 -2.9
-2.0 -3.0
-1.4 -3.0
-1.0 -3.0
-.9 -3.0
-.5 -3.0
-.3 -3.0
0 -3.0
1.1 -3.0
1.6 -3.0
2.2 -3.0
-3.3 -3.1
-1.4 -3.1
-1.3 -3.1
-1.0 -3.1
-.5 -3.1
.4 -3.1
.9 -3.1
-2.0 -3.2
-1.6 -3.2
-1.5 -3.2
-.9 -3.2
-.4 -3.2
.1 -3.2
.2 -3.2
.3 -3.2
.7 -3.2
1.9 -3.2
-1.9 -3.3
-1.8 -3.3
-1.4 -3.3
-1.3 -3.3
-1.1 -3.3
-.9 -3.3
2.0 -3.3
-3.7 -3.4
-1.7 -3.4
-1.6 -3.4
-1.5 -3.4
-1.4 -3.4
-1.1 -3.4
-.9 -3.4
-.5 -3.4
-.4 -3.4
-.3 -3.4
.1 -3.4
-2.1 -3.5
-1.7 -3.5
-1.6 -3.5
-1.1 -3.5
-.5 -3.5
-.4 -3.5
1.6 -3.5
-1.4 -3.6
-1.3 -3.6
-1.1 -3.6
-1.0 -3.6
1.5 -3.6
-1.3 -3.7
-1.2 -3.7
-1.1 -3.7
-1.0 -3.7
-.6 -3.7
.7 -3.7
2.3 -3.7
-1.5 -3.8
-1.4 -3.8
-1.3 -3.8
-1.2 -3.8
-1.1 -3.8
-1.0 -3.8
-.9 -3.8
-.8 -3.8
-.7 -3.8
-.6 -3.8
-.5 -3.8
-1.8 -3.9
-1.1 -3.9
-.7 -3.9
-.6 -3.9
.3 -3.9
-1.3 -4.0
-1.1 -4.0
-.6 -4.0
-1.6 -4.1
-1.1 -4.1
-.9 -4.1
-.8 -4.1
-.6 -4.1
.3 -4.1
-1.6 -4.2
-1.5 -4.2
-1.4 -4.2
-1.0 -4.2
-.9 -4.2
-.8 -4.2
-.7 -4.2
-.2 -4.2
-.1 -4.2
0 -4.2
.1 -4.2
.4 -4.2
1.5 -4.2
1.7 -4.2
-1.4 -4.3
-.8 -4.3
-.6 -4.3
-1.6 -4.4
-1.2 -4.4
-1.1 -4.4
-.7 -4.4
-.6 -4.4
-.4 -4.4
-.3 -4.4
-.1 -4.4
-1.4 -4.5
-1.3 -4.5
.1 -4.5
-1.4 -4.6
-1.2 -4.6
-.8 -4.6
-.4 -4.6
1.2 -4.6
2.2 -4.6
-1.3 -4.7
-.7 -4.7
-.6 -4.7
.3 -4.7
3.3 -4.7
-1.4 -4.8
-1.2 -4.8
-1.1 -4.8
-1.0 -4.8
-1.3 -4.9
-1.2 -4.9
-1.1 -4.9
-1.0 -4.9
-.9 -4.9
-2.0 -5.0
-1.9 -5.0
-1.7 -5.0
-1.5 -5.0
-1.0 -5.0
-.7 -5.0
};
\addplot[black,line width=0.5pt] coordinates {(-5,-5) (5,5)};
\node[font=\fontsize{14.8}{16}\selectfont] at (axis cs:2.4,-3.9) {$n_{\mathrm{sig}}=0$};
\end{axis}
\end{tikzpicture}
\end{document}
